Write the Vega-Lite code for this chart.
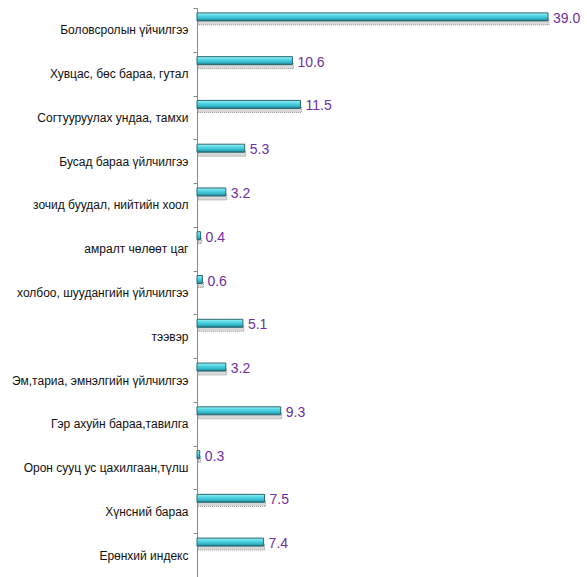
{
  "$schema": "https://vega.github.io/schema/vega-lite/v6.json",
  "width": 351,
  "height": 569,
  "autosize": {"type": "none"},
  "padding": {"left": 197, "top": 8, "right": 39, "bottom": 0},
  "background": "white",
  "config": {"view": {"stroke": null}},
  "data": {
    "values": [
      {"category": "Боловсролын үйчилгээ", "value": 39.0},
      {"category": "Хувцас, бөс бараа, гутал", "value": 10.6},
      {"category": "Согтууруулах ундаа, тамхи", "value": 11.5},
      {"category": "Бусад бараа үйлчилгээ", "value": 5.3},
      {"category": "зочид буудал, нийтийн хоол", "value": 3.2},
      {"category": "амралт чөлөөт цаг", "value": 0.4},
      {"category": "холбоо, шуудангийн үйлчилгээ", "value": 0.6},
      {"category": "тээвэр", "value": 5.1},
      {"category": "Эм,тариа, эмнэлгийн үйлчилгээ", "value": 3.2},
      {"category": "Гэр ахуйн бараа,тавилга", "value": 9.3},
      {"category": "Орон сууц ус цахилгаан,түлш", "value": 0.3},
      {"category": "Хүнсний бараа", "value": 7.5},
      {"category": "Ерөнхий индекс", "value": 7.4}
    ]
  },
  "encoding": {
    "y": {
      "field": "category",
      "type": "nominal",
      "sort": null,
      "scale": {"paddingInner": 0, "paddingOuter": 0},
      "axis": {
        "title": null,
        "tickBand": "extent",
        "labelPadding": 5,
        "labelFont": "Liberation Sans",
        "labelFontSize": 12,
        "labelColor": "#111111",
        "labelLimit": 300,
        "labelOverlap": false,
        "labelBound": false,
        "domainColor": "#8a8a8a",
        "tickColor": "#8a8a8a",
        "tickSize": 4,
        "grid": false
      }
    },
    "x": {
      "field": "value",
      "type": "quantitative",
      "scale": {"domain": [0, 39], "nice": false, "zero": true},
      "axis": null
    }
  },
  "layer": [
    {
      "mark": {
        "type": "bar",
        "size": 6,
        "yOffset": -8,
        "xOffset": 1,
        "fill": "#d9d9d9",
        "stroke": "#9a9a9a",
        "strokeWidth": 1,
        "strokeDash": [1, 1],
        "cornerRadius": 0
      }
    },
    {
      "mark": {
        "type": "bar",
        "size": 8,
        "yOffset": -13,
        "stroke": "#2c6870",
        "strokeWidth": 1,
        "fill": {
          "gradient": "linear",
          "x1": 0, "y1": 0, "x2": 0, "y2": 1,
          "stops": [
            {"offset": 0, "color": "#9ef0f6"},
            {"offset": 0.35, "color": "#55d8e6"},
            {"offset": 0.75, "color": "#2fb4c6"},
            {"offset": 1, "color": "#1d6c78"}
          ]
        }
      }
    },
    {
      "mark": {
        "type": "text",
        "align": "left",
        "baseline": "middle",
        "dx": 5,
        "yOffset": -11,
        "font": "Liberation Sans Narrow, Arial Narrow, Liberation Sans, sans-serif",
        "fontSize": 14,
        "color": "#7030a0"
      },
      "encoding": {
        "text": {"field": "value", "type": "quantitative", "format": ".1f"}
      }
    }
  ]
}
